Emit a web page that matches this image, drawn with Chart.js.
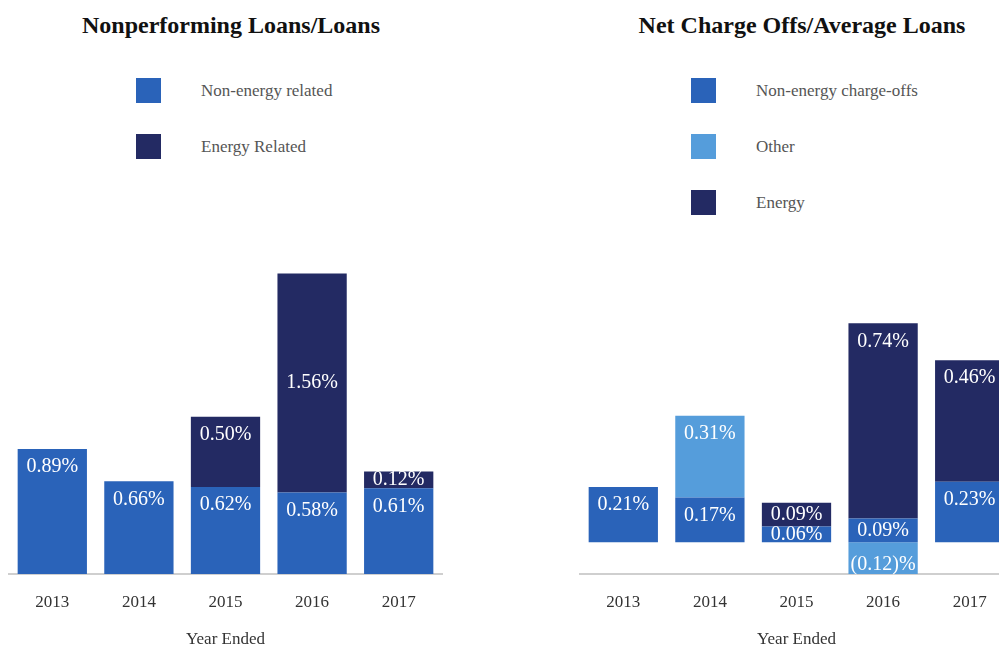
<!DOCTYPE html>
<html>
<head>
<meta charset="utf-8">
<script src="https://cdn.jsdelivr.net/npm/chart.js@4.4.0/dist/chart.umd.min.js"></script>
<style>
    body { margin: 0; width: 999px; height: 646px; overflow: hidden; position: relative; background: #fff; font-family: "Liberation Serif", "DejaVu Serif", serif; }
    .title { position: absolute; top: 12px; font-size: 24px; font-weight: bold; color: #111; text-align: center; }
    .legend { position: absolute; top: 78px; margin: 0; padding: 0; list-style: none; }
    .legend li { position: relative; height: 25px; margin-bottom: 31px; font-size: 17px; color: #555; line-height: 25px; }
    .legend span { position: absolute; left: 0; top: 0; width: 25px; height: 25px; }
    .legend em { position: absolute; left: 65px; top: 0; font-style: normal; white-space: nowrap; }
    .box { position: absolute; width: 460px; }
</style>
</head>
<body>
<div class="title" style="left:0;width:462px">Nonperforming Loans/Loans</div>
<ul class="legend" id="legendLeft" style="left:136px"></ul>
<div class="box" style="left:0;top:252px;height:397px"><canvas id="nplChart"></canvas></div>

<div class="title" style="left:572px;width:460px">Net Charge Offs/Average Loans</div>
<ul class="legend" id="legendRight" style="left:691px"></ul>
<div class="box" style="left:570px;top:302px;height:347px"><canvas id="ncoChart"></canvas></div>

<script>
const years = ["2013", "2014", "2015", "2016", "2017"];

// Nonperforming Loans/Loans (%)
const nplNonEnergy = [0.89, 0.66, 0.62, 0.58, 0.61];
const nplEnergy = [null, null, 0.50, 1.56, 0.12];

// Net Charge Offs/Average Loans (%)
const ncoNonEnergy = [0.21, 0.17, 0.06, 0.09, 0.23];
const ncoOther = [null, 0.31, null, -0.12, null];
const ncoEnergy = [null, null, 0.09, 0.74, 0.46];

const BLUE = "#2a63b9";
const NAVY = "#232a63";
const LIGHT = "#559ddb";

function formatPct(v) {
    if (v < 0) {
        return "(" + Math.abs(v).toFixed(2) + ")%";
    }
    return v.toFixed(2) + "%";
}

// writes the value inside each bar segment
const barLabels = {
    id: "barLabels",
    afterDatasetsDraw(chart) {
        const ctx = chart.ctx;
        ctx.save();
        ctx.fillStyle = "#fff";
        ctx.font = "20px 'Liberation Serif', serif";
        ctx.textAlign = "center";
        ctx.textBaseline = "middle";
        chart.data.datasets.forEach((ds, i) => {
            const meta = chart.getDatasetMeta(i);
            meta.data.forEach((bar, j) => {
                const v = ds.data[j];
                if (v === null || v === undefined) return;
                const props = bar.getProps(["x", "y", "base"], true);
                let cy;
                if (v < 0) {
                    cy = props.y - 9;
                } else {
                    const h = props.base - props.y;
                    const mid = ds.labelMid && ds.labelMid[j];
                    cy = (h < 36 || mid) ? (props.y + props.base) / 2 : props.y + 18;
                }
                ctx.fillText(formatPct(v), props.x, cy);
            });
        });
        ctx.restore();
    }
};

function buildLegend(id, datasets) {
    const ul = document.getElementById(id);
    for (const ds of datasets) {
        const li = document.createElement("li");
        const sw = document.createElement("span");
        sw.style.background = ds.backgroundColor;
        const txt = document.createElement("em");
        txt.textContent = ds.label;
        li.appendChild(sw);
        li.appendChild(txt);
        ul.appendChild(li);
    }
}

function makeChart(canvasId, datasets, yMin, yMax, padding) {
    return new Chart(document.getElementById(canvasId), {
        type: "bar",
        data: { labels: years, datasets: datasets },
        plugins: [barLabels],
        options: {
            responsive: true,
            maintainAspectRatio: false,
            animation: false,
            layout: { padding: padding },
            plugins: {
                legend: { display: false },
                tooltip: { enabled: false }
            },
            datasets: {
                bar: { barPercentage: 0.8, categoryPercentage: 1.0, borderWidth: 0 }
            },
            scales: {
                x: {
                    stacked: true,
                    grid: { display: false, drawTicks: false },
                    border: { display: true, color: "#cfcfcf", width: 2 },
                    ticks: {
                        color: "#333",
                        padding: 20,
                        font: { family: "'Liberation Serif', serif", size: 17, lineHeight: 1 }
                    },
                    title: {
                        display: true,
                        text: "Year Ended",
                        color: "#333",
                        padding: { top: 0, bottom: 1 },
                        font: { family: "'Liberation Serif', serif", size: 17, lineHeight: 1 }
                    }
                },
                y: {
                    stacked: true,
                    display: false,
                    min: yMin,
                    max: yMax
                }
            }
        }
    });
}

const nplSets = [
    { label: "Non-energy related", data: nplNonEnergy, backgroundColor: BLUE },
    { label: "Energy Related", data: nplEnergy, backgroundColor: NAVY, labelMid: [false, false, false, true, false] }
];
const ncoSets = [
    { label: "Non-energy charge-offs", data: ncoNonEnergy, backgroundColor: BLUE },
    { label: "Other", data: ncoOther, backgroundColor: LIGHT },
    { label: "Energy", data: ncoEnergy, backgroundColor: NAVY }
];

buildLegend("legendLeft", nplSets);
buildLegend("legendRight", ncoSets);

makeChart("nplChart", nplSets, 0, 2.15, { top: 20, left: 9, right: 18, bottom: 0 });
makeChart("ncoChart", ncoSets, -0.12, 0.85, { top: 16, left: 10, right: 17, bottom: 0 });
</script>
</body>
</html>
